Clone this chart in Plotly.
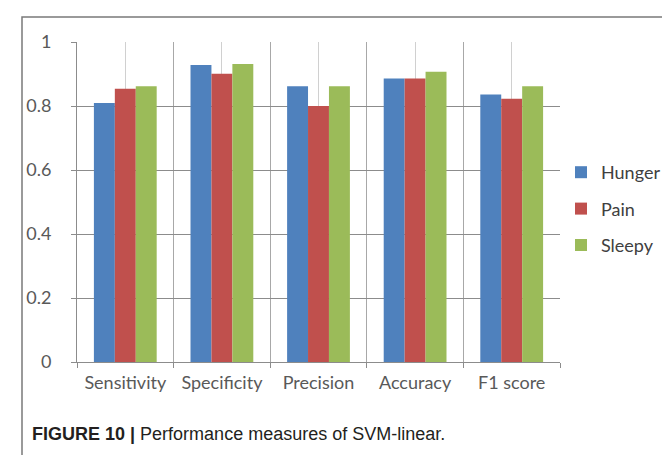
import plotly.graph_objects as go

categories = ["Sensitivity", "Specificity", "Precision", "Accuracy", "F1 score"]
series_names = ["Hunger", "Pain", "Sleepy"]
hunger = [0.809, 0.928, 0.862, 0.886, 0.836]
pain = [0.854, 0.901, 0.800, 0.886, 0.823]
sleepy = [0.862, 0.931, 0.862, 0.907, 0.862]
y_ticks = [0, 0.2, 0.4, 0.6, 0.8, 1]
colors = ["#4f81bd", "#c0504d", "#9bbb59"]

x_pos = list(range(len(categories)))
boundaries = [i - 0.5 for i in range(len(categories) + 1)]

fig = go.Figure()
for name, vals, col in zip(series_names, [hunger, pain, sleepy], colors):
    fig.add_trace(go.Bar(x=x_pos, y=vals, name=name, marker=dict(color=col, line=dict(width=0)),
                         legendgroup=name))

W, H = 670, 455
L, R, T, B = 69, 118, 34, 101
pw = W - L - R
ph = H - T - B

def px_to_paper_x(px):
    return (px - L) / pw

def px_to_paper_y(py):
    return (H - B - py) / ph

fig.update_layout(
    width=W, height=H,
    margin=dict(l=L, r=R, t=T, b=B, autoexpand=False),
    paper_bgcolor="white", plot_bgcolor="white",
    barmode="group", bargap=0.35, bargroupgap=0,
    font=dict(family="Lato, Carlito, sans-serif", size=18, color="#595959"),
    xaxis=dict(
        range=[-0.5, len(categories) - 0.5],
        tickmode="array", tickvals=x_pos, ticktext=categories,
        showgrid=True, gridcolor="#d0d0d0", gridwidth=1,
        ticks="", ticklabelstandoff=4,
        showline=True, linecolor="#8c8c8c", linewidth=1,
        zeroline=False,
        minor=dict(tickvals=boundaries, showgrid=True, gridcolor="#a8a8a8", gridwidth=1,
                   ticks="outside", ticklen=5, tickcolor="#8c8c8c"),
        tickfont=dict(size=18, color="#595959"),
    ),
    yaxis=dict(
        range=[0, 1], tickmode="array", tickvals=y_ticks,
        showgrid=True, gridcolor="#8c8c8c", gridwidth=1,
        ticks="outside", ticklen=5, tickcolor="#8c8c8c",
        showline=True, linecolor="#8c8c8c", linewidth=1,
        zeroline=False, ticklabelstandoff=16,
        tickfont=dict(size=18, color="#595959"),
    ),
    legend=dict(
        xref="container", yref="container",
        x=553 / W, y=1 - 201 / H, xanchor="left", yanchor="middle",
        font=dict(size=18, color="#404040"),
        tracegroupgap=10, traceorder="grouped",
        itemwidth=30, bgcolor="rgba(0,0,0,0)",
    ),
    showlegend=True,
)

# outer frame
fig.add_shape(type="rect", xref="paper", yref="paper",
              x0=px_to_paper_x(14), x1=px_to_paper_x(667),
              y0=px_to_paper_y(470), y1=px_to_paper_y(9),
              line=dict(color="#7a7a7a", width=1.5), fillcolor="rgba(0,0,0,0)", layer="below")

fig.add_annotation(
    xref="paper", yref="paper",
    x=px_to_paper_x(22), y=px_to_paper_y(426),
    xanchor="left", yanchor="middle", showarrow=False,
    text="<b>FIGURE 10</b> <b>|</b> Performance measures of SVM-linear.",
    font=dict(family="Liberation Sans, Arial, sans-serif", size=18, color="#231f20"),
)

fig.write_html("out.html")
